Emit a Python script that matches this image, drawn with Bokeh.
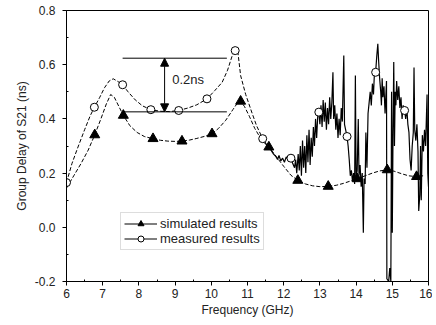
from bokeh.plotting import figure
from bokeh.models import (Legend, LegendItem, Arrow, NormalHead, Label, FixedTicker)
from bokeh.embed import file_html
from bokeh.resources import INLINE

# ---------------- data ----------------
x_ticks = [6, 7, 8, 9, 10, 11, 12, 13, 14, 15, 16]
x_minor = [6.5, 7.5, 8.5, 9.5, 10.5, 11.5, 12.5, 13.5, 14.5, 15.5]
y_ticks = [-0.2, 0.0, 0.2, 0.4, 0.6, 0.8]
y_tick_labels = ["-0.2", "0.0", "0.2", "0.4", "0.6", "0.8"]
y_minor = [-0.1, 0.1, 0.3, 0.5, 0.7]

# simulated curve (smooth line)
sim_f = [6.0, 6.2, 6.4, 6.6, 6.78, 6.95, 7.1, 7.22, 7.32, 7.45, 7.57, 7.75, 7.95, 8.15,
         8.39, 8.6, 8.8, 9.0, 9.19, 9.4, 9.6, 9.8, 10.02, 10.2, 10.4, 10.6, 10.72, 10.81,
         10.92, 11.05, 11.2, 11.4, 11.59, 11.8, 12.0, 12.2, 12.39, 12.6, 12.8, 13.0, 13.23,
         13.45, 13.65, 13.85, 14.03, 14.25, 14.45, 14.65, 14.86, 15.05, 15.25, 15.45, 15.67, 15.85]
sim_v = [0.145, 0.19, 0.235, 0.285, 0.341, 0.40, 0.455, 0.49, 0.48, 0.445, 0.413, 0.375, 0.35, 0.335,
         0.327, 0.321, 0.318, 0.317, 0.318, 0.322, 0.328, 0.335, 0.345, 0.365, 0.395, 0.435, 0.458, 0.465,
         0.445, 0.41, 0.365, 0.32, 0.296, 0.26, 0.225, 0.192, 0.173, 0.16, 0.153, 0.15, 0.151,
         0.155, 0.162, 0.171, 0.179, 0.19, 0.20, 0.208, 0.212, 0.207, 0.198, 0.19, 0.187, 0.19]
# simulated markers
sim_mark_f = [6.78, 7.57, 8.39, 9.19, 10.02, 10.81, 11.59, 12.39, 13.23, 14.03, 14.86, 15.67]
sim_mark_v = [0.341, 0.413, 0.327, 0.318, 0.345, 0.465, 0.296, 0.173, 0.151, 0.179, 0.212, 0.187]

# measured curve, smooth part
meas_f = [6.0, 6.15, 6.3, 6.5, 6.65, 6.77, 6.92, 7.05, 7.18, 7.29, 7.42, 7.55, 7.7, 7.9, 8.1,
          8.33, 8.6, 8.85, 9.1, 9.35, 9.6, 9.88, 10.1, 10.3, 10.45, 10.57, 10.66, 10.74, 10.81,
          10.95, 11.13, 11.25, 11.42]
meas_v = [0.165, 0.235, 0.29, 0.36, 0.41, 0.443, 0.48, 0.515, 0.54, 0.548, 0.538, 0.526, 0.50, 0.47, 0.448,
          0.434, 0.428, 0.427, 0.431, 0.44, 0.452, 0.474, 0.505, 0.535, 0.58, 0.63, 0.652, 0.64, 0.56,
          0.49, 0.42, 0.375, 0.327]
# measured curve, noisy part
noise_f = [11.42, 11.55, 11.65, 11.72, 11.78, 11.83, 11.87, 11.92, 11.97, 12.02, 12.07, 12.12, 12.2,
           12.25, 12.3, 12.33, 12.36, 12.4, 12.43, 12.46, 12.49, 12.52, 12.55, 12.58, 12.61, 12.64,
           12.67, 12.7, 12.73, 12.76, 12.79, 12.82, 12.85, 12.88, 12.91, 12.94, 12.97, 13.0, 13.03,
           13.06, 13.09, 13.12, 13.15, 13.18, 13.21, 13.24, 13.27, 13.3, 13.33, 13.36, 13.38, 13.41,
           13.44, 13.47, 13.5, 13.53, 13.56, 13.59, 13.62, 13.66, 13.68, 13.71, 13.75, 13.78, 13.81,
           13.84, 13.87, 13.9, 13.93, 13.96, 13.98, 14.0, 14.03, 14.06, 14.08, 14.11, 14.14, 14.17,
           14.2, 14.22, 14.25, 14.27, 14.3, 14.33, 14.36, 14.39, 14.42, 14.45, 14.48, 14.51, 14.54,
           14.57, 14.6, 14.62, 14.65, 14.68, 14.7, 14.72, 14.74, 14.77, 14.8, 14.84, 14.85, 14.9,
           14.93, 14.96, 14.98, 15.0, 15.02, 15.04, 15.06, 15.08, 15.1, 15.12, 15.15, 15.18, 15.21,
           15.24, 15.27, 15.3, 15.34, 15.37, 15.4, 15.43, 15.46, 15.49, 15.52, 15.55, 15.58, 15.6,
           15.62, 15.65, 15.68, 15.71, 15.73, 15.76, 15.78, 15.8, 15.83, 15.86, 15.89, 15.92, 15.96,
           15.98, 16.0]
noise_v = [0.327, 0.30, 0.285, 0.27, 0.262, 0.25, 0.265, 0.245, 0.255, 0.24, 0.26, 0.25, 0.255,
           0.235, 0.22, 0.25, 0.20, 0.27, 0.21, 0.30, 0.19, 0.32, 0.22, 0.30, 0.20, 0.34,
           0.24, 0.36, 0.23, 0.33, 0.26, 0.37, 0.30, 0.40, 0.33, 0.41, 0.425, 0.38, 0.45,
           0.37, 0.47, 0.39, 0.46, 0.36, 0.44, 0.38, 0.48, 0.40, 0.46, 0.572, 0.40, 0.45,
           0.36, 0.42, 0.33, 0.40, 0.34, 0.44, 0.39, 0.634, 0.38, 0.36, 0.335, 0.30, 0.25,
           0.19, 0.21, 0.17, 0.20, 0.16, 0.56, 0.18, 0.21, 0.40, 0.19, 0.23, 0.15, 0.20,
           -0.02, 0.18, 0.16, 0.35, 0.22, 0.42, 0.46, 0.50, 0.45, 0.53, 0.49, 0.58, 0.572,
           0.63, 0.677, 0.62, 0.55, 0.50, 0.45, 0.55, 0.48, 0.52, 0.42, 0.54, -0.19, -0.20,
           -0.15, -0.20, 0.50, -0.02, 0.35, 0.61, 0.30, 0.50, 0.45, 0.54, 0.47, 0.52, 0.44,
           0.48, 0.40, 0.45, 0.431, 0.40, 0.44, 0.38, 0.35, 0.25, 0.21, 0.30, 0.35, 0.59,
           0.36, 0.32, 0.38, 0.28, 0.06, 0.12, 0.30, 0.10, 0.34, 0.28, 0.36, 0.30, 0.49,
           0.20, 0.15]
meas_mark_f = [6.0, 6.77, 7.55, 8.33, 9.1, 9.88, 10.66, 11.42, 12.2, 12.97, 13.75, 14.54, 15.34]
meas_mark_v = [0.165, 0.443, 0.526, 0.434, 0.431, 0.474, 0.652, 0.327, 0.255, 0.425, 0.335, 0.572, 0.431]

# annotation values
ann_top_y = 0.624
ann_bot_y = 0.426
ann_x0 = 7.55
ann_x1 = 10.43
ann_arrow_x = 8.71
ann_text = "0.2ns"
ann_text_x = 8.92
ann_text_y = 0.544

FONT = "Liberation Sans"
TXT = "#222222"

p = figure(width=432, height=324, x_range=(6, 16), y_range=(-0.2, 0.8),
           output_backend="svg", toolbar_location=None,
           min_border_left=66, min_border_right=4, min_border_top=10, min_border_bottom=43)
p.grid.visible = False
p.outline_line_color = "black"
p.outline_line_width = 1
p.background_fill_color = "white"
p.border_fill_color = "white"

# axes
p.xaxis.ticker = FixedTicker(ticks=x_ticks, minor_ticks=x_minor)
p.yaxis.ticker = FixedTicker(ticks=y_ticks, minor_ticks=y_minor)
p.yaxis.major_label_overrides = {t: l for t, l in zip(y_ticks, y_tick_labels)}
p.xaxis.axis_label = "Frequency (GHz)"
p.yaxis.axis_label = "Group Delay of S21 (ns)"
for ax in (p.xaxis, p.yaxis):
    ax.axis_line_color = "black"
    ax.major_tick_line_color = "black"
    ax.minor_tick_line_color = "black"
    ax.major_tick_out = 4
    ax.major_tick_in = 0
    ax.minor_tick_out = 0
    ax.minor_tick_in = 2
    ax.major_label_text_font = FONT
    ax.major_label_text_font_size = "12px"
    ax.major_label_text_color = TXT
    ax.axis_label_text_font = FONT
    ax.axis_label_text_font_size = "12px"
    ax.axis_label_text_font_style = "normal"
    ax.axis_label_text_color = TXT
p.xaxis.major_label_standoff = 3
p.xaxis.axis_label_standoff = 2
p.yaxis.major_label_standoff = 7
p.yaxis.axis_label_standoff = 3

# curves
sim_line = p.line(sim_f, sim_v, line_color="black", line_width=1, line_dash="4 2")
sim_pts = p.scatter(sim_mark_f, sim_mark_v, marker="triangle", size=10,
                    fill_color="black", line_color="black")
meas_line = p.line(meas_f, meas_v, line_color="black", line_width=1, line_dash="4 2")
noise_line = p.line(noise_f, noise_v, line_color="black", line_width=1.2)
meas_pts = p.scatter(meas_mark_f, meas_mark_v, marker="circle", size=8,
                     fill_color="white", line_color="black", line_width=1)

# annotation
p.segment(x0=[ann_x0, ann_x0], y0=[ann_top_y, ann_bot_y], x1=[ann_x1, ann_x1],
          y1=[ann_top_y, ann_bot_y], line_color="black", line_width=1)
p.add_layout(Arrow(start=NormalHead(size=8, fill_color="black", line_color="black"),
                   end=NormalHead(size=8, fill_color="black", line_color="black"),
                   x_start=ann_arrow_x, y_start=ann_bot_y, x_end=ann_arrow_x, y_end=ann_top_y,
                   line_color="black", line_width=1))
p.add_layout(Label(x=ann_text_x, y=ann_text_y, text=ann_text, text_font=FONT,
                   text_font_size="13px", text_baseline="middle", text_align="left",
                   text_color=TXT))

legend = Legend(items=[LegendItem(label="simulated results", renderers=[noise_line, sim_pts]),
                       LegendItem(label="measured results", renderers=[noise_line, meas_pts])],
                location=(54, 31), label_text_font=FONT, label_text_font_size="13px",
                label_text_color=TXT,
                border_line_color="#bbbbbb", border_line_width=1, background_fill_alpha=1,
                padding=3, spacing=0, margin=0, glyph_width=33, glyph_height=15,
                label_height=15, label_standoff=3)
p.add_layout(legend, "center")

open("out.html", "w").write(file_html(p, INLINE))
